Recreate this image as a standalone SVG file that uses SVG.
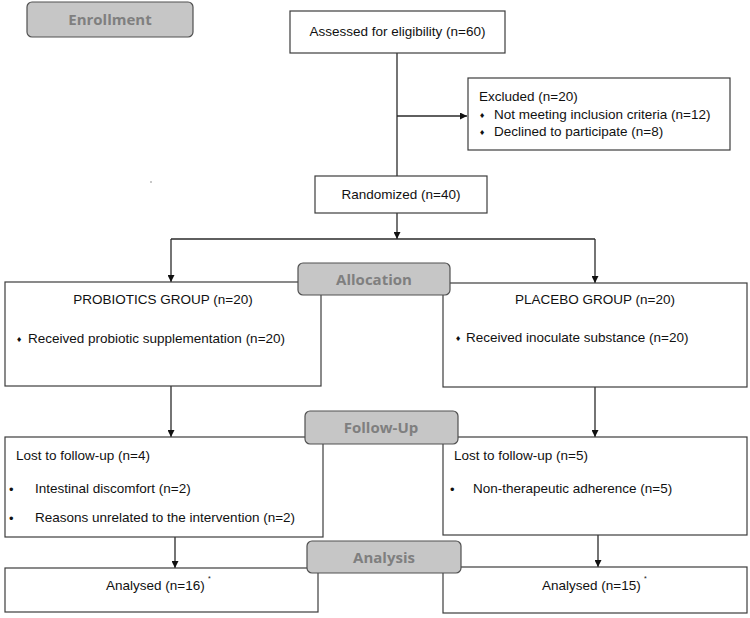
<svg xmlns="http://www.w3.org/2000/svg" width="750" height="618" viewBox="0 0 750 618">
<style>
.box{fill:#fff;stroke:#3c3c3c;stroke-width:1.2}
.tab{fill:#c6c6c6;stroke:#505050;stroke-width:1.2}
.t{font-family:"Liberation Sans",Arial,sans-serif;font-size:13.5px;fill:#111}
.tl{font-family:"Open Sans","Liberation Sans",sans-serif;font-size:15px;font-weight:bold;fill:#7f7f7f}
.c{text-anchor:middle}
.dia{font-family:"DejaVu Sans",sans-serif;font-size:7px;fill:#111}
.bul{font-family:"Liberation Sans",Arial,sans-serif;font-size:13px;fill:#111}
.sup{font-family:"Liberation Sans",Arial,sans-serif;font-size:7px;fill:#111}
.ln{fill:none;stroke:#2a2a2a;stroke-width:1.3}
</style>
<defs>
<marker id="ah" viewBox="0 0 10 10" refX="10" refY="5" markerWidth="7" markerHeight="7" markerUnits="userSpaceOnUse" orient="auto">
<path d="M0,0 L10,5 L0,10 z" fill="#111"/>
</marker>
</defs>
<rect width="750" height="618" fill="#fff"/>
<g id="connectors">
<line class="ln" x1="397" y1="53" x2="397" y2="176"/>
<line class="ln" x1="397" y1="116" x2="467" y2="116" marker-end="url(#ah)"/>
<line class="ln" x1="397" y1="213" x2="397" y2="239" marker-end="url(#ah)"/>
<line class="ln" x1="171" y1="239" x2="595" y2="239"/>
<line class="ln" x1="171" y1="239" x2="171" y2="282" marker-end="url(#ah)"/>
<line class="ln" x1="595" y1="239" x2="595" y2="283" marker-end="url(#ah)"/>
<line class="ln" x1="171" y1="386" x2="171" y2="437" marker-end="url(#ah)"/>
<line class="ln" x1="595" y1="387" x2="595" y2="437" marker-end="url(#ah)"/>
<line class="ln" x1="175" y1="537" x2="175" y2="568" marker-end="url(#ah)"/>
<line class="ln" x1="598" y1="535" x2="598" y2="567" marker-end="url(#ah)"/>
</g>
<circle cx="151" cy="182" r="0.7" fill="#666"/>
<g id="assessed">
<rect class="box" x="290" y="11" width="215" height="42"/>
<text class="t c" x="397.5" y="36">Assessed for eligibility (n=60)</text>
</g>
<g id="excluded">
<rect class="box" x="468" y="78" width="262" height="72"/>
<text class="t" x="479" y="101">Excluded (n=20)</text>
<text class="dia" x="479" y="118">♦</text>
<text class="t" x="494" y="119">Not meeting inclusion criteria (n=12)</text>
<text class="dia" x="479" y="135">♦</text>
<text class="t" x="494" y="136">Declined to participate (n=8)</text>
</g>
<g id="randomized">
<rect class="box" x="315" y="176" width="172" height="37"/>
<text class="t c" x="401" y="199">Randomized (n=40)</text>
</g>
<g id="probiotics">
<rect class="box" x="5" y="282" width="316" height="104"/>
<text class="t c" x="163" y="304">PROBIOTICS GROUP (n=20)</text>
<text class="dia" x="16" y="342">♦</text>
<text class="t" x="28" y="343">Received probiotic supplementation (n=20)</text>
</g>
<g id="placebo">
<rect class="box" x="443" y="283" width="304" height="104"/>
<text class="t c" x="595" y="304">PLACEBO GROUP (n=20)</text>
<text class="dia" x="455" y="341">♦</text>
<text class="t" x="466" y="342">Received inoculate substance (n=20)</text>
</g>
<g id="lost-probiotics">
<rect class="box" x="5" y="437" width="318" height="100"/>
<text class="t" x="16" y="460">Lost to follow-up (n=4)</text>
<text class="bul" x="9" y="494">•</text>
<text class="t" x="35" y="493">Intestinal discomfort (n=2)</text>
<text class="bul" x="9" y="523">•</text>
<text class="t" x="35" y="522">Reasons unrelated to the intervention (n=2)</text>
</g>
<g id="lost-placebo">
<rect class="box" x="443" y="437" width="304" height="98"/>
<text class="t" x="454" y="460">Lost to follow-up (n=5)</text>
<text class="bul" x="450" y="494">•</text>
<text class="t" x="473" y="493">Non-therapeutic adherence (n=5)</text>
</g>
<g id="analysed-probiotics">
<rect class="box" x="5" y="568" width="313" height="44"/>
<text class="t" x="106" y="590">Analysed (n=16)</text>
<text class="sup" x="208" y="581">*</text>
</g>
<g id="analysed-placebo">
<rect class="box" x="443" y="567" width="304" height="46"/>
<text class="t" x="542" y="590">Analysed (n=15)</text>
<text class="sup" x="644" y="581">*</text>
</g>
<g id="enrollment">
<rect class="tab" x="27" y="2" width="166" height="35" rx="5"/>
<text class="tl c" x="110" y="25">Enrollment</text>
</g>
<g id="allocation">
<rect class="tab" x="298" y="263" width="152" height="32" rx="5"/>
<text class="tl c" x="374" y="285">Allocation</text>
</g>
<g id="followup">
<rect class="tab" x="305" y="411" width="153" height="33" rx="5"/>
<text class="tl c" x="381" y="433">Follow-Up</text>
</g>
<g id="analysis">
<rect class="tab" x="307" y="541" width="154" height="32" rx="5"/>
<text class="tl c" x="384" y="563">Analysis</text>
</g>
</svg>
